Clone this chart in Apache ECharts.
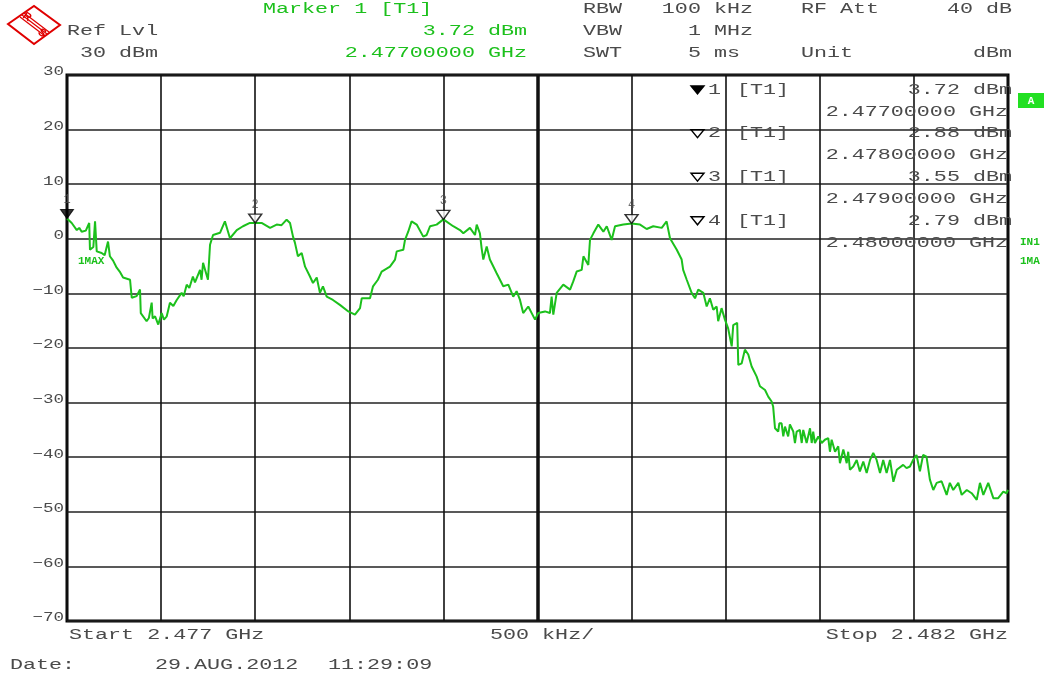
<!DOCTYPE html>
<html>
<head>
<meta charset="utf-8">
<script src="https://cdn.jsdelivr.net/npm/echarts@6/dist/echarts.min.js"></script>
<style>
  html, body { margin: 0; padding: 0; background: #fff; }
  #chart { width: 1052px; height: 675px; }
</style>
</head>
<body>
<div id="chart"></div>
<script>
// trace: frequency offset from start (MHz) and level (dBm)
const traceFreq = [
  0, 0.025, 0.052, 0.065, 0.078, 0.1, 0.118, 0.122, 0.14, 0.149, 0.158, 0.184, 0.2, 0.218, 0.228, 0.245,
  0.264, 0.28, 0.298, 0.335, 0.344, 0.37, 0.388, 0.392, 0.423, 0.435, 0.45, 0.455, 0.468, 0.485, 0.503,
  0.515, 0.53, 0.547, 0.565, 0.583, 0.609, 0.62, 0.636, 0.65, 0.669, 0.68, 0.707, 0.715, 0.723, 0.749,
  0.76, 0.776, 0.813, 0.839, 0.866, 0.902, 0.935, 0.972, 1.0, 1.034, 1.079, 1.114, 1.14, 1.167, 1.185,
  1.201, 1.211, 1.227, 1.247, 1.265, 1.291, 1.307, 1.327, 1.344, 1.36, 1.38, 1.413, 1.45, 1.495, 1.53,
  1.557, 1.566, 1.61, 1.626, 1.652, 1.672, 1.716, 1.743, 1.752, 1.787, 1.796, 1.813, 1.831, 1.858, 1.893,
  1.911, 1.929, 1.964, 2.0, 2.052, 2.088, 2.106, 2.141, 2.168, 2.177, 2.194, 2.203, 2.212, 2.23, 2.247,
  2.283, 2.318, 2.345, 2.371, 2.389, 2.407, 2.424, 2.451, 2.487, 2.504, 2.54, 2.566, 2.575, 2.584, 2.602,
  2.637, 2.673, 2.69, 2.708, 2.735, 2.744, 2.77, 2.779, 2.797, 2.823, 2.85, 2.868, 2.894, 2.912, 2.956,
  3.0, 3.045, 3.08, 3.115, 3.16, 3.186, 3.204, 3.24, 3.266, 3.274, 3.293, 3.319, 3.337, 3.354, 3.381,
  3.399, 3.416, 3.434, 3.452, 3.46, 3.478, 3.496, 3.513, 3.532, 3.54, 3.561, 3.567, 3.585, 3.602, 3.62,
  3.638, 3.664, 3.682, 3.709, 3.726, 3.744, 3.752, 3.762, 3.779, 3.785, 3.797, 3.806, 3.815, 3.832, 3.841,
  3.859, 3.868, 3.877, 3.894, 3.904, 3.912, 3.93, 3.948, 3.957, 3.965, 3.974, 3.992, 4.01, 4.027, 4.045,
  4.054, 4.063, 4.081, 4.098, 4.107, 4.125, 4.143, 4.151, 4.16, 4.178, 4.196, 4.213, 4.231, 4.249, 4.267,
  4.284, 4.302, 4.32, 4.337, 4.355, 4.373, 4.391, 4.409, 4.443, 4.461, 4.479, 4.496, 4.514, 4.532, 4.549,
  4.567, 4.585, 4.603, 4.621, 4.647, 4.674, 4.691, 4.709, 4.736, 4.754, 4.781, 4.807, 4.834, 4.851, 4.869,
  4.895, 4.922, 4.948, 4.975, 4.993, 5.0
];
const traceLevel = [
  3.72, 2.9, 1.6, 2.0, 1.3, 1.5, 2.9, -2.0, -1.5, 3.2, -2.3, -2.6, -3.0, -0.5, -3.2, -4.0,
  -5.3, -6.0, -7.1, -7.5, -10.8, -10.5, -9.3, -13.6, -15.1, -14.5, -11.7, -14.6, -14.2, -15.7, -13.6,
  -14.8, -14.2, -11.7, -12.3, -11.2, -9.9, -10.5, -8.4, -9.0, -6.9, -8.0, -5.7, -7.5, -4.4, -7.5,
  -1.1, 0.7, 1.1, 3.2, 0.1, 1.6, 2.3, 2.9, 2.88, 2.9, 2.0, 2.6, 2.5, 3.5, 2.9,
  0.4, -0.7, -3.2, -2.6, -5.1, -6.9, -8.1, -7.1, -9.9, -8.7, -10.6, -11.2, -12.1, -13.3, -13.9,
  -12.7, -10.9, -10.9, -8.7, -7.5, -6.0, -5.1, -3.8, -2.3, -2.0, -0.2, 1.3, 3.2, 2.6, 0.4,
  0.7, 2.3, 2.6, 3.55, 2.3, 1.6, 1.0, 2.0, 0.7, 2.6, 1.0, -1.7, -3.8, -1.4, -3.8,
  -6.3, -8.7, -8.4, -10.6, -9.6, -11.2, -13.6, -12.4, -14.8, -13.6, -13.3, -13.6, -10.6, -13.9, -9.9,
  -8.4, -9.3, -7.8, -6.0, -5.7, -3.2, -4.8, -0.2, 1.0, 2.6, 1.3, 2.3, -0.2, 2.3, 2.6,
  2.79, 2.6, 1.8, 2.3, 2.0, 3.2, 0.1, -2.0, -3.8, -5.7, -7.5, -9.9, -10.9, -9.3, -9.9,
  -12.4, -10.9, -13.0, -12.4, -15.1, -12.7, -14.8, -16.4, -19.7, -15.8, -15.4, -23.1, -22.8, -20.3, -21.2,
  -23.4, -25.2, -27.0, -27.7, -28.9, -29.8, -30.7, -34.7, -35.3, -33.8, -33.8, -36.2, -34.4, -36.2, -34.0,
  -35.3, -37.4, -35.3, -35.0, -37.4, -35.0, -37.4, -34.7, -37.4, -35.3, -37.4, -36.2, -37.4, -36.8, -36.5,
  -39.0, -36.8, -39.0, -38.0, -41.1, -38.6, -41.1, -39.0, -42.3, -41.7, -40.5, -42.6, -40.8, -42.9, -40.5,
  -39.2, -40.5, -42.9, -40.5, -42.9, -40.5, -44.5, -42.3, -41.4, -42.0, -41.7, -40.5, -39.6, -42.6, -39.6,
  -39.9, -44.1, -46.0, -44.7, -44.4, -46.9, -44.7, -46.0, -44.7, -46.9, -46.0, -46.6, -47.8, -44.7, -46.9,
  -44.7, -47.5, -47.5, -46.3, -46.6, -46.0
];

// markers
const markerFreq = [0, 1, 2, 3];
const markerLevel = [3.72, 2.88, 3.55, 2.79];
const markerName = ['1', '2', '3', '4'];
const markerFreqText = ['2.47700000 GHz', '2.47800000 GHz', '2.47900000 GHz', '2.48000000 GHz'];

// axes
const yTicks = [30, 20, 10, 0, -10, -20, -30, -40, -50, -60, -70];
const yTickLabels = ['30', '20', '10', '0', '\u221210', '\u221220', '\u221230', '\u221240', '\u221250', '\u221260', '\u221270'];
const yMin = -70, yMax = 30, yStep = 10;
const xMin = 0, xMax = 5, xStep = 0.5;

const GREEN = '#1cc01c';
const TXT = '#4a4a4a';
const FONT = '"Liberation Mono", "DejaVu Sans Mono", monospace';

function txt(x, y, s, color, align, size, sx) {
  return {
    type: 'text', x: x, y: y, scaleX: sx || 1.55, z: 100,
    style: {
      text: s, fill: color || TXT, font: (size || 14) + 'px ' + FONT,
      align: align || 'left', verticalAlign: 'middle'
    }
  };
}

function tri(x, y, filled) {
  return {
    type: 'polygon', z: 100,
    shape: { points: [[x, y], [x + 13, y], [x + 6.5, y + 8]] },
    style: { fill: filled ? '#000' : 'none', stroke: '#000', lineWidth: 1.4 }
  };
}

const graphics = [
  // R&S logo
  { type: 'polygon', shape: { points: [[8, 24], [34, 6], [60, 25], [34, 44]] },
    style: { fill: 'none', stroke: '#e00000', lineWidth: 2 } },
  { type: 'line', shape: { x1: 22, y1: 15, x2: 47, y2: 34 }, style: { stroke: '#e00000', lineWidth: 1.2 } },
  { type: 'line', shape: { x1: 20, y1: 17, x2: 45, y2: 36 }, style: { stroke: '#e00000', lineWidth: 1.2 } },
  { type: 'line', shape: { x1: 24, y1: 13, x2: 49, y2: 32 }, style: { stroke: '#e00000', lineWidth: 1.2 } },
  { type: 'text', x: 27, y: 17, rotation: -0.6, style: { text: 'R', fill: '#e00000', font: 'bold 11px sans-serif', align: 'center', verticalAlign: 'middle' } },
  { type: 'text', x: 42, y: 33, rotation: -0.6, style: { text: 'S', fill: '#e00000', font: 'bold 11px sans-serif', align: 'center', verticalAlign: 'middle' } },

  // header
  txt(263, 9, 'Marker 1 [T1]', GREEN),
  txt(67, 31, 'Ref Lvl'),
  txt(527, 31, '3.72 dBm', GREEN, 'right'),
  txt(80, 53, '30 dBm'),
  txt(527, 53, '2.47700000 GHz', GREEN, 'right'),
  txt(583, 9, 'RBW'), txt(753, 9, '100 kHz', null, 'right'),
  txt(801, 9, 'RF Att'), txt(1012, 9, '40 dB', null, 'right'),
  txt(583, 31, 'VBW'), txt(753, 31, '1 MHz', null, 'right'),
  txt(583, 53, 'SWT'), txt(740, 53, '5 ms', null, 'right'),
  txt(801, 53, 'Unit'), txt(1012, 53, 'dBm', null, 'right'),

  // footer
  txt(69, 635, 'Start 2.477 GHz'),
  txt(490, 635, '500 kHz/'),
  txt(1008, 635, 'Stop 2.482 GHz', null, 'right'),
  txt(10, 665, 'Date:'),
  txt(155, 665, '29.AUG.2012'),
  txt(328, 665, '11:29:09'),

  // side annotations
  { type: 'rect', shape: { x: 1018, y: 93, width: 26, height: 15 }, style: { fill: '#22e022' } },
  { type: 'text', x: 1031, y: 101, style: { text: 'A', fill: '#fff', font: 'bold 11px ' + FONT, align: 'center', verticalAlign: 'middle' } },
  { type: 'text', x: 1020, y: 242, style: { text: 'IN1', fill: GREEN, font: 'bold 11px ' + FONT, verticalAlign: 'middle' } },
  { type: 'text', x: 1020, y: 261, style: { text: '1MA', fill: GREEN, font: 'bold 11px ' + FONT, verticalAlign: 'middle' } },
  { type: 'text', x: 78, y: 261, style: { text: '1MAX', fill: GREEN, font: 'bold 11px ' + FONT, verticalAlign: 'middle' } }
];

// marker table inside the plot
markerName.forEach(function (n, i) {
  const y0 = 90 + i * 43.6;
  graphics.push(tri(691, y0 - 4, i === 0));
  graphics.push(txt(708, y0, n));
  graphics.push(txt(737, y0, '[T1]'));
  graphics.push(txt(1012, y0, markerLevel[i].toFixed(2) + ' dBm', null, 'right'));
  graphics.push(txt(1008, y0 + 22, markerFreqText[i], null, 'right'));
});

const chart = echarts.init(document.getElementById('chart'), null, { renderer: 'canvas' });
chart.setOption({
  backgroundColor: '#fff',
  animation: false,
  grid: {
    left: 67, right: 44, top: 75, bottom: 54,
    show: true, borderColor: '#000', borderWidth: 3, backgroundColor: '#fff'
  },
  xAxis: {
    type: 'value', min: xMin, max: xMax, interval: xStep,
    axisLine: { show: false }, axisTick: { show: false }, axisLabel: { show: false },
    splitLine: { show: true, lineStyle: { color: '#111', width: 1.6 } }
  },
  yAxis: {
    type: 'value', min: yMin, max: yMax, interval: yStep,
    axisLine: { show: false }, axisTick: { show: false }, axisLabel: { show: false },
    splitLine: { show: true, lineStyle: { color: '#222', width: 1.6 } }
  },
  series: [
    {
      type: 'line',
      data: traceFreq.map(function (f, i) { return [f, traceLevel[i]]; }),
      showSymbol: false,
      lineStyle: { color: GREEN, width: 2 },
      z: 5,
      markLine: {
        silent: true, symbol: 'none', label: { show: false },
        lineStyle: { color: '#111', width: 3.5, type: 'solid' },
        data: [{ xAxis: 2.5 }]
      }
    },
    {
      type: 'scatter',
      data: markerFreq.map(function (f, i) {
        return {
          value: [f, markerLevel[i]],
          itemStyle: i === 0 ? { color: '#000', borderColor: '#000', borderWidth: 1 }
                             : { color: '#fff', borderColor: '#000', borderWidth: 1.4 }
        };
      }),
      symbol: 'triangle', symbolRotate: 180, symbolSize: [13, 9], symbolOffset: [0, -4.5],
      clip: false, z: 10,
      label: {
        show: true, position: 'top', distance: 3, color: TXT, fontFamily: FONT, fontSize: 12,
        formatter: function (p) { return markerName[p.dataIndex]; }
      }
    }
  ]
});

// y tick labels placed through the value axis
yTicks.forEach(function (v, i) {
  const p = chart.convertToPixel({ gridIndex: 0 }, [xMin, v]);
  graphics.push(txt(p[0] - 3, p[1] - 3, yTickLabels[i], null, 'right', 13, 1.35));
});
chart.setOption({ graphic: graphics });
</script>
</body>
</html>
